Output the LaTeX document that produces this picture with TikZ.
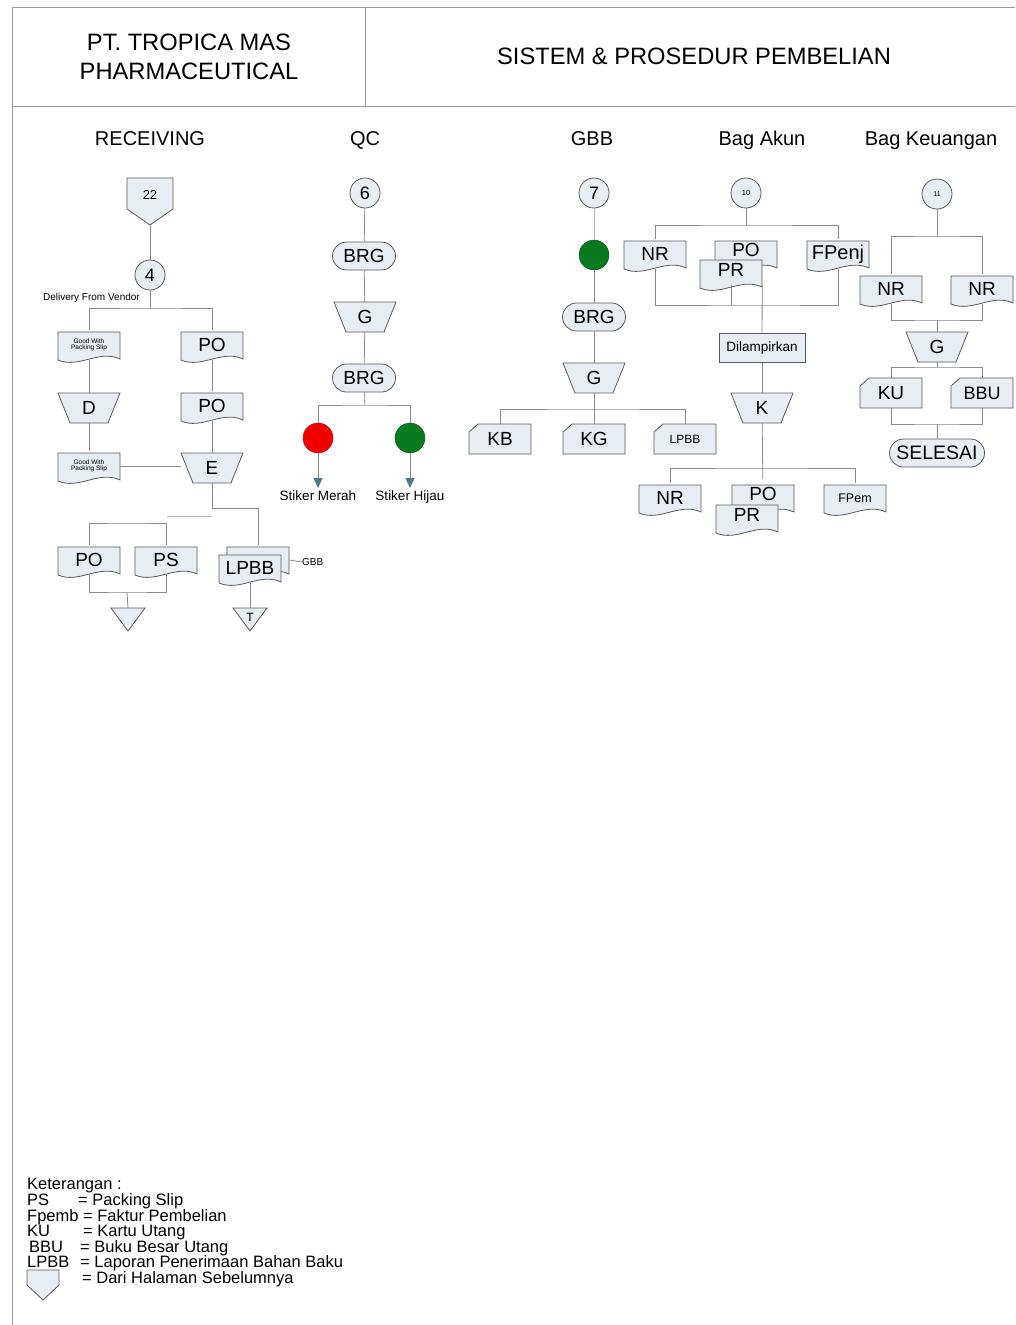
\documentclass[tikz,border=0pt]{standalone}
\usepackage{fontspec}
\setmainfont{Liberation Sans}
\usetikzlibrary{arrows.meta}

\definecolor{shapefill}{HTML}{E8ECF3}
\definecolor{linegray}{HTML}{8A8A8A}
\definecolor{framegray}{HTML}{9A9A9A}
\definecolor{arrowteal}{HTML}{4F7C84}
\definecolor{stkred}{HTML}{F20000}
\definecolor{stkgreen}{HTML}{0A7A1E}

\newcommand{\fsz}[1]{\fontsize{#1}{#1}\selectfont}

\tikzset{
  shapeline/.style={draw=black!65,fill=shapefill,line width=0.8pt},
  conn/.style={draw=linegray,line width=0.8pt},
  lbl/.style={inner sep=0pt,align=center,font=\fsz{19}},
  circ/.style={circle,shapeline,minimum size=30,inner sep=0pt,font=\fsz{18}},
  term/.style={rectangle,rounded corners=14,shapeline,minimum width=63,minimum height=28,inner sep=0pt,font=\fsz{19}},
  notebox/.style={rectangle,shapeline,minimum width=86,minimum height=29,inner sep=0pt,font=\fsz{13.5}},
  head/.style={inner sep=0pt,anchor=base,font=\fsz{20}},
  small/.style={inner sep=0pt,font=\fsz{10}},
  legend/.style={inner sep=0pt,anchor=base west,font=\fsz{16.5}}
}

\newcommand{\docshape}[5][]{%
  \filldraw[shapeline] (#3-31,#4-15) -- (#3+31,#4-15) -- (#3+31,#4+12)
    .. controls (#3+10,#4+2) and (#3-10,#4+22) .. (#3-31,#4+13) -- cycle;
  \node[lbl,minimum width=62,minimum height=30,#1] (#2) at (#3,#4-2) {#5};}

\newcommand{\cardshape}[5][]{%
  \filldraw[shapeline] (#3-22,#4-15) -- (#3+31,#4-15) -- (#3+31,#4+15)
    -- (#3-31,#4+15) -- (#3-31,#4-7) -- cycle;
  \node[lbl,minimum width=62,minimum height=30,#1] (#2) at (#3,#4) {#5};}

\newcommand{\manopshape}[4]{%
  \filldraw[shapeline] (#2-31,#3-15) -- (#2+31,#3-15) -- (#2+19,#3+15)
    -- (#2-19,#3+15) -- cycle;
  \node[lbl,minimum width=62,minimum height=30] (#1) at (#2,#3) {#4};}

\newcommand{\trishape}[4]{%
  \filldraw[shapeline] (#2-17,#3) -- (#2+17,#3) -- (#2,#3+23) -- cycle;
  \node[lbl,font=\fsz{12},minimum width=34,minimum height=18] (#1) at (#2,#3+9) {#4};}

\begin{document}
\begin{tikzpicture}[x=1pt,y=-1pt]
\path[use as bounding box,fill=white] (0,0) rectangle (1015,1325);

\draw[framegray,line width=0.9pt] (12,1325) -- (12,7) -- (1015,7);
\draw[framegray,line width=0.9pt] (12,106) -- (1015,106);
\draw[framegray,line width=0.9pt] (365,7) -- (365,106);

\node[inner sep=0pt,anchor=base,font=\fsz{23.7}] (company) at (189,50) {PT. TROPICA MAS};
\node[inner sep=0pt,anchor=base,font=\fsz{23.7}] (company2) at (189,79) {PHARMACEUTICAL};
\node[inner sep=0pt,anchor=base,font=\fsz{23.7}] (title) at (694,64) {SISTEM \& PROSEDUR PEMBELIAN};

\node[head] (hrecv) at (150,145) {RECEIVING};
\node[head] (hqc) at (365,145) {QC};
\node[head] (hgbb) at (592,145) {GBB};
\node[head] (hakun) at (762,145) {Bag Akun};
\node[head] (hkeu) at (931,145) {Bag Keuangan};

% receiving
\filldraw[shapeline] (127,178) -- (173,178) -- (173,209) -- (150,225) -- (127,209) -- cycle;
\node[lbl,font=\fsz{13}] (p22) at (150,195) {22};
\coordinate (p22b) at (150,225);
\node[circ] (c4) at (150,275) {4};
\node[small,anchor=east] (dfv) at (140,298) {Delivery From Vendor};
\coordinate (r1) at (150,308);

\docshape[font=\fsz{6.5}]{gw1}{89}{347}{Good With\\Packing Slip}
\docshape{po1}{212}{347}{PO}
\manopshape{mD}{89}{408}{D}
\docshape{po2}{212}{408}{PO}
\docshape[font=\fsz{6.5}]{gw2}{89}{468}{Good With\\Packing Slip}
\manopshape{mE}{212}{468}{E}

\docshape{po3}{89}{562}{PO}
\docshape{ps}{166}{562}{PS}
\docshape{lpbbB}{258}{562}{}
\docshape{lpbbF}{250}{570}{LPBB}
\node[small,anchor=west] (gbbl) at (302,562) {GBB};
\trishape{tri1}{128}{608}{}
\trishape{triT}{250}{608}{T}
\coordinate (b1) at (127,523);
\coordinate (b2) at (127,592);
\coordinate (s1) at (167,516);
\coordinate (s2) at (212,516);

\draw[conn] (p22b) -- (c4);
\draw[conn] (c4) -- (r1);
\draw[conn] (gw1.north) |- (r1) -| (po1.north);
\draw[conn] (gw1.south) -- (mD.north);
\draw[conn] (mD.south) -- (gw2.north);
\draw[conn] (po1.south) -- (po2.north);
\draw[conn] (po2.south) -- (mE.north);
\draw[conn] (gw2.east) -- (mE.west |- gw2.east);
\draw[conn] (mE.south) -- ++(0,25) -| (lpbbB.north);
\draw[conn,draw=linegray!60] (s1) -- (s2);
\draw[conn] (po3.north) |- (b1) -| (ps.north);
\draw[conn] (po3.south) |- (b2) -| (ps.south);
\draw[conn] (b2) -- (tri1.north);
\draw[conn] (lpbbB.east) -- (gbbl.west);
\draw[conn] (lpbbF.south) -- (triT.north);

% qc
\node[circ] (c6) at (365,193) {6};
\node[term] (brg1) at (364,256) {BRG};
\manopshape{mG1}{365}{317}{G}
\node[term] (brg2) at (364,378) {BRG};
\coordinate (q1) at (365,405);
\node[circle,fill=stkred,draw=stkred!75!black,minimum size=30] (red) at (318,438) {};
\node[circle,fill=stkgreen,draw=stkgreen!75!black,minimum size=30] (grn) at (410,438) {};
\node[inner sep=0pt,anchor=base,font=\fsz{13.5}] (smerah) at (318,500) {Stiker Merah};
\node[inner sep=0pt,anchor=base,font=\fsz{13.5}] (shijau) at (410,500) {Stiker Hijau};

\draw[conn] (c6) -- (brg1);
\draw[conn] (brg1) -- (mG1);
\draw[conn] (mG1) -- (brg2);
\draw[conn] (brg2) -- (q1);
\draw[conn] (red) |- (q1) -| (grn);
\draw[conn,-{Triangle[length=10pt,width=9pt,color=arrowteal]},shorten >=2pt] (red) -- (smerah.north);
\draw[conn,-{Triangle[length=10pt,width=9pt,color=arrowteal]},shorten >=2pt] (grn) -- (shijau.north);

% gbb
\node[circ] (c7) at (594,193) {7};
\node[circle,fill=stkgreen,draw=stkgreen!75!black,minimum size=30] (gdot) at (594,255) {};
\node[term] (brg3) at (594,317) {BRG};
\manopshape{mG2}{594}{378}{G}
\coordinate (g1) at (594,409);
\cardshape{kb}{500}{439}{KB}
\cardshape{kg}{594}{439}{KG}
\cardshape[font=\fsz{12}]{lpbbc}{685}{439}{LPBB}

\draw[conn,draw=linegray!60] (c7) -- (gdot);
\draw[conn] (gdot) -- (brg3);
\draw[conn] (brg3) -- (mG2);
\draw[conn] (mG2) -- (kg);
\draw[conn] (kb.north) |- (g1) -| (lpbbc.north);

% bag akun
\node[circ,font=\fsz{7.5}] (c10) at (746,193) {10};
\coordinate (a1) at (746,225);
\coordinate (a2) at (762,305);
\docshape{nr1}{655}{256}{NR}
\docshape[yshift=4]{po5}{746}{256}{PO}
\docshape[yshift=3]{pr1}{731}{275}{PR}
\docshape[font=\fsz{20}]{fpenj}{838}{256}{FPenj}
\node[notebox] (dil) at (762,348) {Dilampirkan};
\manopshape{mK}{762}{408}{K}
\coordinate (a3) at (762,468);
\docshape{nr2}{670}{500}{NR}
\docshape[yshift=4]{po4}{763}{500}{PO}
\docshape[yshift=3]{pr2}{747}{520}{PR}
\docshape[font=\fsz{12.5}]{fpem}{855}{500}{FPem}

\draw[conn] (c10) -- (a1);
\draw[conn] (nr1.north) |- (a1) -| (fpenj.north);
\draw[conn] (nr1.south) |- (a2) -| (fpenj.south);
\draw[conn] (pr1.south) -- (pr1.south |- a2);
\draw[conn] (pr1.south east) -- (dil);
\draw[conn] (dil) -- (mK);
\draw[conn] (mK) -- (po4);
\draw[conn] (nr2.north) |- (a3) -| (fpem.north);

% bag keuangan
\node[circ,font=\fsz{7}] (c11) at (937,194) {11};
\coordinate (k1) at (937,236);
\docshape{nr3}{891}{291}{NR}
\docshape{nr4}{982}{291}{NR}
\coordinate (k2) at (937,320);
\manopshape{mG3}{937}{347}{G}
\coordinate (k3) at (937,367);
\cardshape{ku}{891}{393}{KU}
\cardshape[font=\fsz{18}]{bbu}{982}{393}{BBU}
\coordinate (k4) at (937,424);
\node[term,minimum width=95,font=\fsz{19.5}] (sel) at (937,453) {SELESAI};

\draw[conn] (c11) -- (k1);
\draw[conn] (nr3.north) |- (k1) -| (nr4.north);
\draw[conn] (nr3.south) |- (k2) -| (nr4.south);
\draw[conn] (k2) -- (mG3);
\draw[conn] (mG3) -- (k3);
\draw[conn] (ku.north) |- (k3) -| (bbu.north);
\draw[conn] (ku.south) |- (k4) -| (bbu.south);
\draw[conn] (k4) -- (sel);

% keterangan
\node[legend] (ket) at (27,1189) {Keterangan :};
\node[legend] (kps) at (27,1205) {PS};
\node[legend] (kps2) at (78,1205) {= Packing Slip};
\node[legend] (kfp) at (27,1221) {Fpemb = Faktur Pembelian};
\node[legend] (kku) at (27,1236) {KU};
\node[legend] (kku2) at (83,1236) {= Kartu Utang};
\node[legend] (kbbu) at (29,1252) {BBU};
\node[legend] (kbbu2) at (80,1252) {= Buku Besar Utang};
\node[legend] (klp) at (27,1267) {LPBB};
\node[legend] (klp2) at (80,1267) {= Laporan Penerimaan Bahan Baku};
\filldraw[shapeline] (27,1270) -- (59,1270) -- (59,1285) -- (43,1300) -- (27,1285) -- cycle;
\node[legend] (kdari) at (82,1283) {= Dari Halaman Sebelumnya};
\end{tikzpicture}
\end{document}
